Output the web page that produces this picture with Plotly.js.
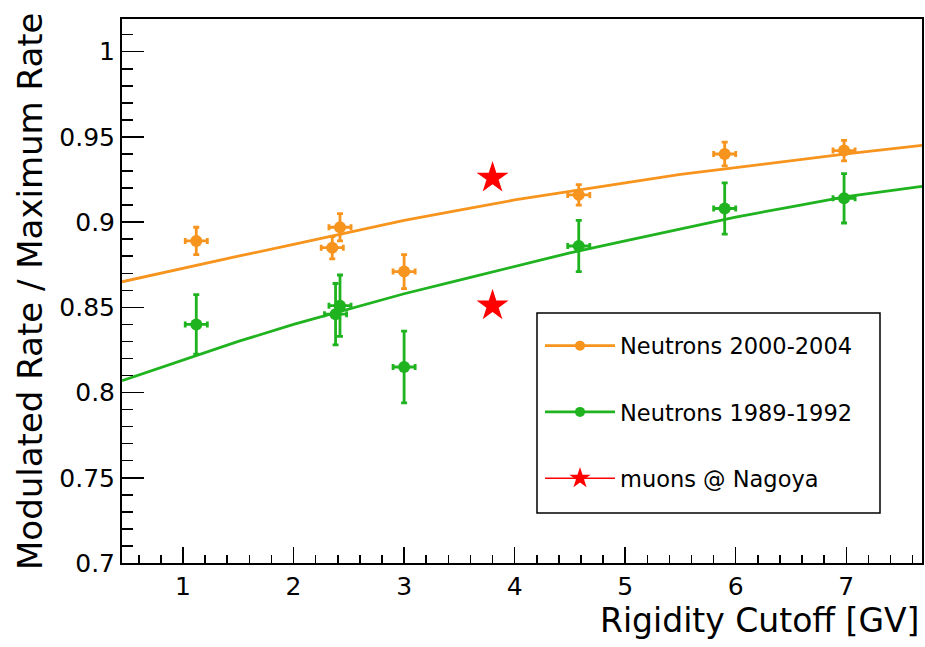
<!DOCTYPE html>
<html>
<head>
<meta charset="utf-8">
<script src="https://cdn.plot.ly/plotly-3.0.1.min.js"></script>
<style>html,body{margin:0;padding:0;background:#fff;}#chart{width:925px;height:647px;}</style>
</head>
<body>
<div id="chart"></div>
<script>
// Neutrons 2000-2004 (orange)
var orangeX    = [1.12, 2.35, 2.42, 3.00, 4.58, 5.90, 6.98];
var orangeY    = [0.889, 0.885, 0.897, 0.871, 0.916, 0.940, 0.942];
var orangeYErr = [0.008, 0.0065, 0.008, 0.010, 0.006, 0.007, 0.006];
var orangeXErr = [0.10, 0.10, 0.10, 0.10, 0.10, 0.10, 0.10];
// Neutrons 1989-1992 (green)
var greenX    = [1.12, 2.38, 2.42, 3.00, 4.58, 5.90, 6.98];
var greenY    = [0.840, 0.846, 0.851, 0.815, 0.886, 0.908, 0.914];
var greenYErr = [0.0175, 0.018, 0.018, 0.021, 0.015, 0.015, 0.0145];
var greenXErr = [0.10, 0.10, 0.10, 0.10, 0.10, 0.10, 0.10];
// muons @ Nagoya
var muonX = [3.80, 3.80];
var muonY = [0.926, 0.851];
// fitted curves
var fitX      = [0.448, 1.0, 1.5, 2.0, 2.5, 3.0, 3.5, 4.0, 4.5, 5.0, 5.5, 6.0, 6.5, 7.0, 7.685];
var fitOrange = [0.865, 0.873, 0.880, 0.887, 0.894, 0.901, 0.907, 0.913, 0.918, 0.923, 0.928, 0.932, 0.936, 0.940, 0.945];
var fitGreen  = [0.807, 0.819, 0.830, 0.840, 0.849, 0.858, 0.866, 0.874, 0.882, 0.889, 0.896, 0.903, 0.909, 0.915, 0.921];

var legendNames = ['Neutrons 2000-2004', 'Neutrons 1989-1992', 'muons @ Nagoya'];

var ORANGE = '#f7941d';
var GREEN = '#1fb31f';
var RED = '#ff0000';
var FONT = 'DejaVu Sans, Liberation Sans, Arial, sans-serif';

function errStyle(arr, color) {
  return {type: 'data', array: arr, visible: true, color: color, thickness: 2.8, width: 3};
}

var traces = [
  {x: fitX, y: fitOrange, mode: 'lines', line: {color: ORANGE, width: 2.8}, showlegend: false, hoverinfo: 'skip'},
  {x: fitX, y: fitGreen, mode: 'lines', line: {color: GREEN, width: 2.8}, showlegend: false, hoverinfo: 'skip'},
  {x: orangeX, y: orangeY, mode: 'markers', marker: {color: ORANGE, size: 12},
   error_y: errStyle(orangeYErr, ORANGE), error_x: errStyle(orangeXErr, ORANGE), showlegend: false},
  {x: greenX, y: greenY, mode: 'markers', marker: {color: GREEN, size: 12},
   error_y: errStyle(greenYErr, GREEN), error_x: errStyle(greenXErr, GREEN), showlegend: false},
  {x: muonX, y: muonY, mode: 'markers', marker: {color: RED, size: 24, symbol: 'star'}, showlegend: false},
  // legend entries
  {x: [null], y: [null], name: legendNames[0], mode: 'lines+markers', line: {color: ORANGE, width: 2.8}, marker: {color: ORANGE, size: 10}, legendgroup: 'a'},
  {x: [null], y: [null], name: legendNames[1], mode: 'lines+markers', line: {color: GREEN, width: 2.8}, marker: {color: GREEN, size: 10}, legendgroup: 'b'},
  {x: [null], y: [null], name: legendNames[2], mode: 'lines+markers', line: {color: RED, width: 1.5}, marker: {color: RED, size: 16, symbol: 'star'}, legendgroup: 'c'}
];

var layout = {
  width: 925, height: 647,
  margin: {l: 122, r: 3, t: 19, b: 84},
  paper_bgcolor: '#fff', plot_bgcolor: '#fff',
  font: {family: FONT, color: '#000'},
  showlegend: true,
  legend: {
    x: (540 - 122) / 800, y: (563 - 324.5) / 544, xanchor: 'left', yanchor: 'top',
    borderwidth: 0, bgcolor: 'rgba(0,0,0,0)',
    font: {family: FONT, size: 22.5, color: '#000'},
    tracegroupgap: 34, traceorder: 'grouped', itemwidth: 70
  },
  shapes: [
    {type: 'rect', xref: 'paper', yref: 'paper', layer: 'below',
     x0: (537 - 122) / 800, x1: (880 - 122) / 800, y0: (563 - 513) / 544, y1: (563 - 313) / 544,
     line: {color: '#000', width: 1.5}, fillcolor: '#fff'}
  ],
  xaxis: {
    range: [0.448, 7.685], dtick: 1, tick0: 0,
    ticks: 'inside', ticklen: 16, tickwidth: 1.5, tickcolor: '#000',
    minor: {dtick: 0.2, ticks: 'inside', ticklen: 8, tickwidth: 1.5, tickcolor: '#000'},
    showline: true, linecolor: '#000', linewidth: 2, mirror: true,
    showgrid: false, zeroline: false,
    tickfont: {family: FONT, size: 25, color: '#000'}
  },
  yaxis: {
    range: [0.7, 1.0192], dtick: 0.05, tick0: 0,
    ticks: 'inside', ticklen: 22, tickwidth: 1.5, tickcolor: '#000',
    minor: {dtick: 0.01, ticks: 'inside', ticklen: 11, tickwidth: 1.5, tickcolor: '#000'},
    showline: true, linecolor: '#000', linewidth: 2, mirror: true,
    showgrid: false, zeroline: false,
    tickfont: {family: FONT, size: 25, color: '#000'}
  },
  annotations: [
    {text: 'Rigidity Cutoff [GV]', xref: 'paper', yref: 'paper', x: 1.0, y: (563 - 620) / 544,
     xanchor: 'right', yanchor: 'middle', showarrow: false, font: {family: FONT, size: 33, color: '#000'}},
    {text: 'Modulated Rate / Maximum Rate', xref: 'paper', yref: 'paper', x: (30 - 122) / 800, y: 0.5,
     xanchor: 'center', yanchor: 'middle', textangle: -90, showarrow: false, font: {family: FONT, size: 34, color: '#000'}}
  ]
};

Plotly.newPlot('chart', traces, layout, {displayModeBar: false, staticPlot: true});
</script>
</body>
</html>
